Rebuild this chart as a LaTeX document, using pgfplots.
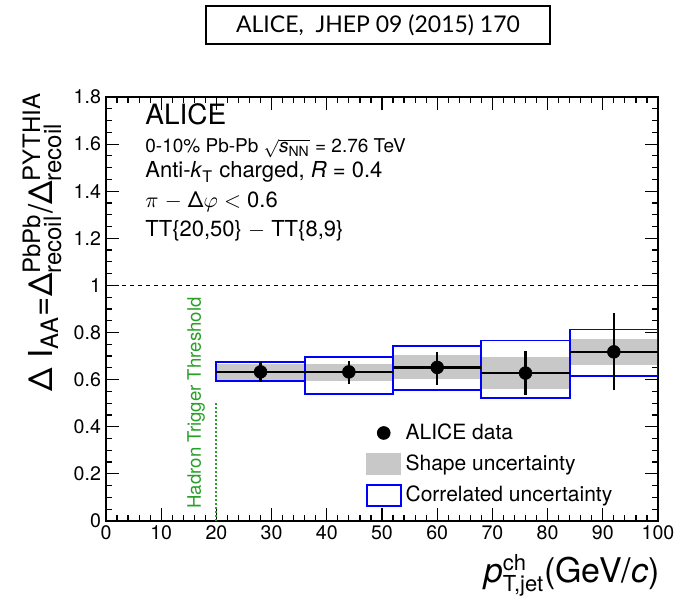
\documentclass[border=0pt]{standalone}
\usepackage{fontspec}
\setmainfont{TeX Gyre Heros}
\newfontfamily\titlefont{Lato}
\usepackage{pgfplots}
\pgfplotsset{compat=1.18}
\definecolor{bandgray}{RGB}{200,200,200}
\definecolor{trig}{RGB}{40,160,40}
\newcommand{\fs}[1]{\fontsize{#1}{#1}\selectfont}
\begin{document}
\begin{tikzpicture}
\useasboundingbox (-53pt,-41pt) rectangle (285.5pt,260.5pt);
\begin{axis}[
  at={(0,0)}, anchor=south west,
  scale only axis, width=276pt, height=212pt,
  xmin=0, xmax=100, ymin=0, ymax=1.8,
  xtick={0,10,...,100}, ytick={0,0.2,0.4,0.6,0.8,1,1.2,1.4,1.6,1.8},
  minor x tick num=4, minor y tick num=3,
  tick align=inside, xtick pos=both, ytick pos=both,
  xticklabel pos=lower, yticklabel pos=left,
  major tick length=6.5pt, minor tick length=3.2pt,
  axis line style={line width=0.75pt},
  every tick/.style={black, line width=0.6pt},
  tick label style={font=\fs{9.8}},
  /pgf/number format/assume math mode=true,
  yticklabel style={/pgf/number format/fixed, /pgf/number format/precision=1, xshift=1pt},
  xticklabel style={yshift=1pt},
  legend style={draw=none, fill=none, at={(0.47,0.24)}, anchor=north west,
    font=\fs{10.5}, row sep=2.3pt, inner sep=0pt, cells={anchor=west}},
  legend cell align=left,
]
% shape uncertainty (gray bands)
\addplot[fill=bandgray, draw=none, forget plot] coordinates {(20,0.593) (36,0.593) (36,0.667) (20,0.667)} -- cycle;
\addplot[fill=bandgray, draw=none, forget plot] coordinates {(36,0.593) (52,0.593) (52,0.667) (36,0.667)} -- cycle;
\addplot[fill=bandgray, draw=none, forget plot] coordinates {(52,0.604) (68,0.604) (68,0.704) (52,0.704)} -- cycle;
\addplot[fill=bandgray, draw=none, forget plot] coordinates {(68,0.562) (84,0.562) (84,0.695) (68,0.695)} -- cycle;
\addplot[fill=bandgray, draw=none, forget plot] coordinates {(84,0.664) (100,0.664) (100,0.773) (84,0.773)} -- cycle;
% correlated uncertainty (blue boxes)
\addplot[draw=blue, line width=0.9pt, forget plot] coordinates {(20,0.593) (36,0.593) (36,0.674) (20,0.674)} -- cycle;
\addplot[draw=blue, line width=0.9pt, forget plot] coordinates {(36,0.539) (52,0.539) (52,0.697) (36,0.697)} -- cycle;
\addplot[draw=blue, line width=0.9pt, forget plot] coordinates {(52,0.556) (68,0.556) (68,0.743) (52,0.743)} -- cycle;
\addplot[draw=blue, line width=0.9pt, forget plot] coordinates {(68,0.522) (84,0.522) (84,0.766) (68,0.766)} -- cycle;
\addplot[draw=blue, line width=0.9pt, forget plot] coordinates {(84,0.617) (100,0.617) (100,0.813) (84,0.813)} -- cycle;
% reference line and threshold
\addplot[black, line width=0.6pt, dash pattern=on 2pt off 2pt, forget plot] coordinates {(0,1) (100,1)};
\addplot[trig, line width=1pt, dash pattern=on 1pt off 1pt, forget plot] coordinates {(20,0) (20,0.5)};
% data
\addplot[black, only marks, mark=*, mark size=3.2pt, mark options={line width=0.3pt}, forget plot,
  error bars/.cd, x dir=both, x explicit, y dir=both, y explicit, error mark=none,
  error bar style={line width=1.1pt, black}]
  table[x=x, y=y, x error=ex, y error plus=eyp, y error minus=eym] {
x   y     ex  eyp   eym
28  0.633 8   0.042 0.043
44  0.633 8   0.047 0.050
60  0.652 8   0.066 0.076
76  0.628 8   0.095 0.095
92  0.718 8   0.166 0.163
};
\addlegendimage{legend image code/.code={\fill[black] (8.5pt,0pt) circle (3.2pt);}}
\addlegendentry{ALICE data}
\addlegendimage{legend image code/.code={\fill[bandgray] (0pt,-5.2pt) rectangle (17pt,5.2pt);}}
\addlegendentry{Shape uncertainty}
\addlegendimage{legend image code/.code={\draw[blue, line width=0.9pt] (0pt,-5.2pt) rectangle (17pt,5.2pt);}}
\addlegendentry{Correlated uncertainty}
\end{axis}
% title box
\node[draw, line width=0.9pt, minimum width=172pt, minimum height=19pt, inner sep=0pt,
  font=\titlefont\fs{11.5}] at (136pt,248pt) {ALICE,\ \ JHEP 09 (2015) 170};
% text block
\node[anchor=base west, inner sep=0pt, font=\fs{14}] at (19.5pt,198pt) {ALICE};
\node[anchor=base west, inner sep=0pt, font=\fs{9.5}] at (19.5pt,184pt) {0-10\% Pb-Pb $\sqrt{\mbox{\textit{s}}_{\mbox{\fs{7}NN}}}$ = 2.76 TeV};
\node[anchor=base west, inner sep=0pt, font=\fs{11}] at (19.5pt,171.5pt) {Anti-\textit{k}$_{\mbox{\fs{8}T}}$ charged, \textit{R} = 0.4};
\node[anchor=base west, inner sep=0pt, font=\fs{11}] at (19.5pt,156.5pt) {$\pi$ $-$ Δ$\varphi$ $<$ 0.6};
\node[anchor=base west, inner sep=0pt, font=\fs{11}] at (19.5pt,142pt) {TT\{20,50\} $-$ TT\{8,9\}};
% threshold label
\node[rotate=90, inner sep=0pt, text=trig, font=\fs{9.3}] at (45pt,59pt) {Hadron Trigger Threshold};
% axis labels
\node[rotate=90, anchor=center, inner sep=0pt, font=\fs{16.5}] at (-32pt,139.5pt)
  {Δ I$_{\mbox{\fs{12}AA}}$=Δ$^{\mbox{\fs{12}PbPb}}_{\mbox{\fs{12}recoil}}$/Δ$^{\mbox{\fs{12}PYTHIA}}_{\mbox{\fs{12}recoil}}$};
\node[anchor=base east, inner sep=0pt, font=\fs{17}] at (277pt,-31pt)
  {\textit{p}$^{\mbox{\fs{11}ch}}_{\mbox{\fs{11}T,jet}}$(GeV/\textit{c})};
\end{tikzpicture}
\end{document}
